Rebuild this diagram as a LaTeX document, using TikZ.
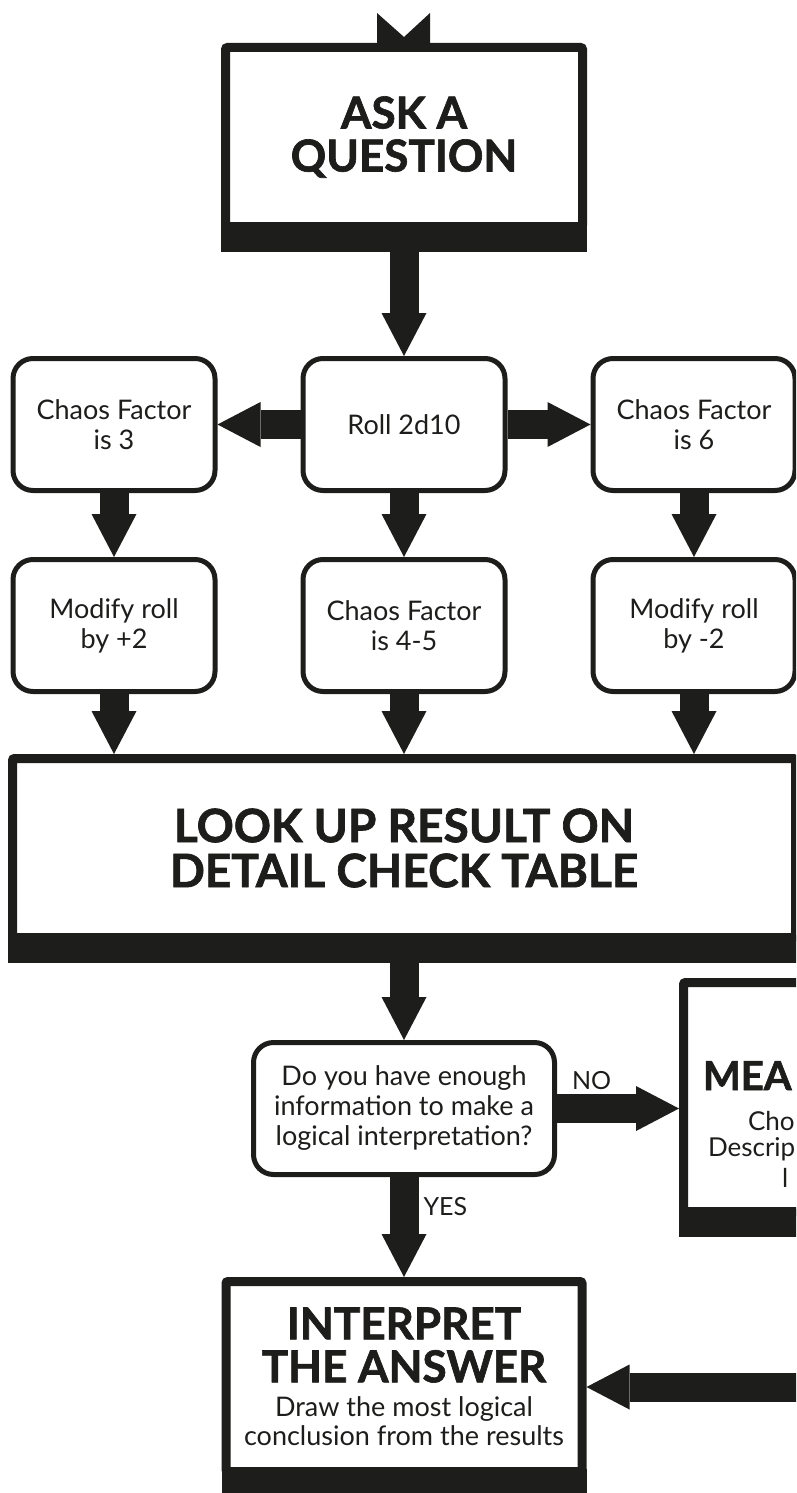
\documentclass[tikz,border=0pt]{standalone}
\usepackage{fontspec}
\setmainfont{Lato}[BoldFeatures={FakeBold=1.5}]
\usetikzlibrary{positioning, arrows.meta}
\definecolor{ink}{HTML}{1D1D1B}
\newcommand{\subfont}{\mdseries\fontsize{27pt}{29pt}\selectfont}

\begin{document}
\begin{tikzpicture}[
    x=1pt, y=-1pt,
    % Style for the rounded option boxes
    choice/.style={
        rectangle,
        rounded corners=20pt,
        draw=ink,
        line width=5pt,
        fill=white,
        text=ink,
        minimum width=202pt,
        minimum height=132pt,
        align=center,
        font=\fontsize{27pt}{30pt}\selectfont
    },
    % Style for the heavy framed boxes
    bigbox/.style={
        rectangle,
        rounded corners=2pt,
        draw=ink,
        line width=9pt,
        fill=white,
        text=ink,
        align=center,
        font=\bfseries\fontsize{44pt}{43pt}\selectfont
    },
    % Style for the block arrows
    flow/.style={
        draw=ink,
        line width=29pt,
        -{Triangle[length=43pt, width=45pt, line width=0pt]}
    },
    % Style for arrow labels and loose text
    tag/.style={
        inner sep=0pt,
        outer sep=0pt,
        anchor=base west,
        text=ink,
        font=\fontsize{25pt}{28pt}\selectfont
    }
    ]

    \useasboundingbox (0,0) rectangle (796,1493);
    \clip (0,0) rectangle (796,1493);

    % --- BOXES ---
    \node[bigbox, minimum width=357pt, minimum height=179pt] (ask) at (404,137) {ASK A\\QUESTION};

    % Chaos factor rows
    \node[choice, below=125pt of ask] (roll) {Roll 2d10};
    \node[choice, left=83pt of roll] (cf3) {Chaos Factor\\is 3};
    \node[choice, right=83pt of roll] (cf6) {Chaos Factor\\is 6};
    \node[choice, below=64pt of cf3] (plus) {Modify roll\\by +2};
    \node[choice, below=64pt of roll] (mid) {Chaos Factor\\is 4-5};
    \node[choice, below=64pt of cf6] (minus) {Modify roll\\by -2};

    \node[bigbox, minimum width=783pt, minimum height=179pt, below=60pt of mid,
          font=\bfseries\fontsize{46pt}{45pt}\selectfont] (lookup) {LOOK UP RESULT ON\\DETAIL CHECK TABLE};

    % Decision
    \node[choice, minimum width=301pt, below=98pt of lookup] (enough) {Do you have enough\\information to make a\\logical interpretation?};

    % Meaning box (runs off the right edge)
    \node[bigbox, minimum width=357pt, minimum height=229pt] (meaning) at (862,1097) {};
    \node[tag, font=\bfseries\fontsize{40pt}{40pt}\selectfont] (meaA) at (703,1090) {MEA};
    \node[tag, font=\fontsize{26pt}{26pt}\selectfont] (meaB) at (748,1130) {Cho};
    \node[tag, font=\fontsize{26pt}{26pt}\selectfont] (meaC) at (708,1156) {Descrip};
    \node[tag, font=\fontsize{26pt}{26pt}\selectfont] (meaD) at (782,1187) {l};

    \node[bigbox, minimum width=356pt, minimum height=190pt, below=100pt of enough] (interp) {INTERPRET\\THE ANSWER\\[-9pt]{\subfont Draw the most logical}\\[-14pt]{\subfont conclusion from the results}};

    % heavy bottom bands
    \foreach \b in {ask, lookup, meaning, interp}
        \fill[ink] ([yshift=7pt]\b.south west) rectangle ([yshift=-21pt]\b.south east);

    % incoming arrow tail at the top
    \fill[ink] ([shift={(-27,0)}]ask.north) -- ([shift={(-27,-30)}]ask.north) -- ([shift={(0,-6)}]ask.north)
        -- ([shift={(26,-30)}]ask.north) -- ([shift={(26,0)}]ask.north) -- cycle;

    % --- ARROWS ---
    \draw[flow] (ask) -- (roll);
    \draw[flow] (roll) -- (cf3);
    \draw[flow] (roll) -- (cf6);
    \draw[flow] (cf3) -- (plus);
    \draw[flow] (roll) -- (mid);
    \draw[flow] (cf6) -- (minus);
    \draw[flow] (plus) -- (plus |- lookup.north);
    \draw[flow] (mid) -- (lookup);
    \draw[flow] (minus) -- (minus |- lookup.north);
    \draw[flow] (lookup) -- (enough);

    % answers
    \draw[flow] (enough.east) -- node[tag, at start, xshift=15pt, yshift=19pt] {NO} (enough.east -| meaning.west);
    \draw[flow] (enough) -- node[tag, at start, xshift=19.5pt, yshift=-38pt] {YES} (interp);

    % return from the right
    \coordinate (offright) at (830,1387);
    \draw[flow] (offright) -- (offright -| interp.east);

\end{tikzpicture}
\end{document}
